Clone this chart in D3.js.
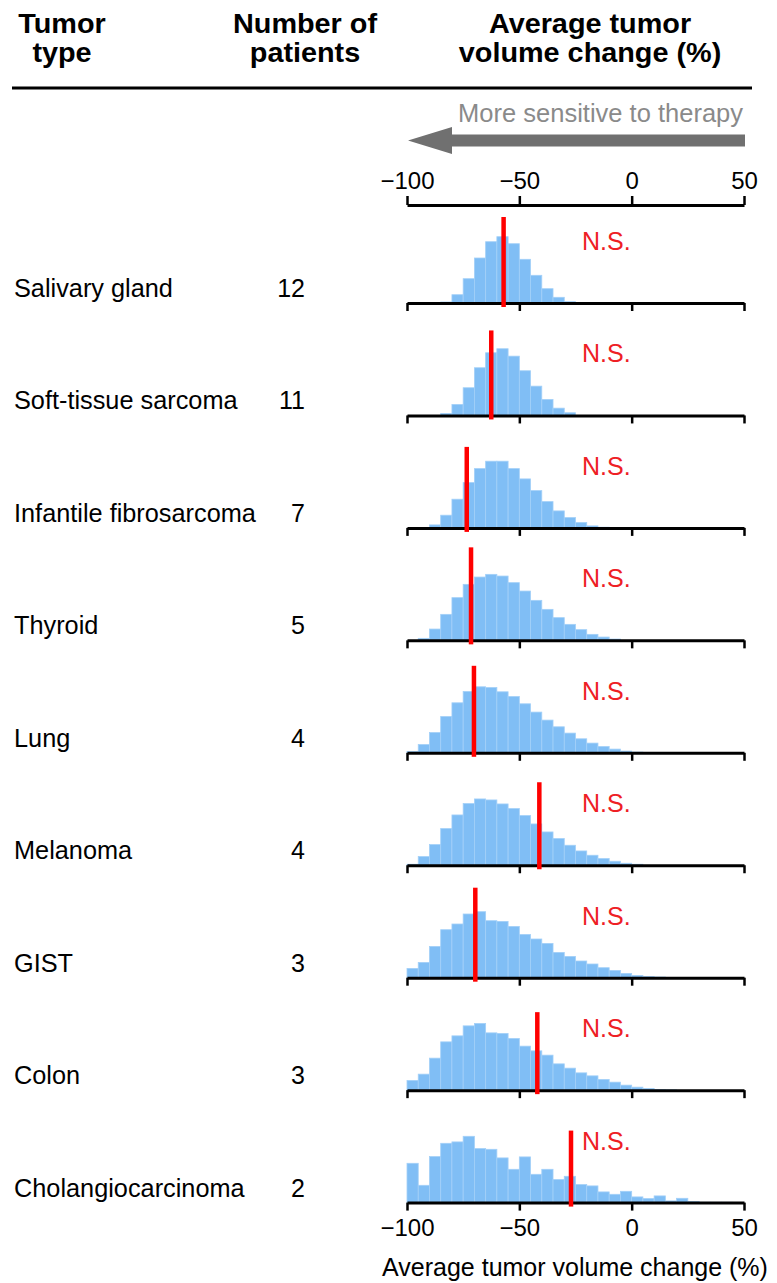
<!DOCTYPE html>
<html>
<head>
<meta charset="utf-8">
<script src="https://cdn.jsdelivr.net/npm/d3@7"></script>
<style>
  body { margin: 0; background: #fff; }
  svg text { font-family: "Liberation Sans", Arial, sans-serif; }
</style>
</head>
<body>
<div id="chart"></div>
<script>
// tumor types and patient counts
const tumorTypes = ["Salivary gland", "Soft-tissue sarcoma", "Infantile fibrosarcoma", "Thyroid",
                    "Lung", "Melanoma", "GIST", "Colon", "Cholangiocarcinoma"];
const patients = [12, 11, 7, 5, 4, 4, 3, 3, 2];

// lower edge of each 5% bin
const binStarts = [-100, -95, -90, -85, -80, -75, -70, -65, -60, -55, -50, -45, -40, -35, -30,
                   -25, -20, -15, -10, -5, 0, 5, 10, 15, 20, 25, 30, 35, 40, 45];
const binWidth = 5;

// histogram heights (relative frequency), one array per tumor type
const salivary   = [0, 0, 0, 1, 8.3, 24.3, 45, 61.3, 66.3, 59.3, 43.7, 27.7, 14.3, 5.7, 1.3, 0, 0, 0, 0, 0, 0, 0, 0, 0, 0, 0, 0, 0, 0, 0];
const softTissue = [0, 0, 0, 2, 11, 27.7, 47.7, 62.7, 66.7, 59.3, 44.7, 29.3, 16, 7.3, 2.7, 0, 0, 0, 0, 0, 0, 0, 0, 0, 0, 0, 0, 0, 0, 0];
const infantile  = [0, 0, 3, 12.7, 28.7, 45.3, 59.3, 66.7, 66.7, 59.3, 49, 37.3, 26.3, 17, 10.3, 5.3, 2, 0.7, 0, 0, 0, 0, 0, 0, 0, 0, 0, 0, 0, 0];
const thyroid    = [0, 2, 11.3, 26, 42.7, 56, 63.3, 66, 64.3, 57.7, 49.3, 40, 31, 22.7, 16, 10.7, 6, 3.3, 1.3, 0, 0, 0, 0, 0, 0, 0, 0, 0, 0, 0];
const lung       = [1.3, 8.3, 20.3, 36.3, 50, 61.3, 66, 65.3, 61, 56.3, 49, 40.7, 32.7, 26, 19.7, 14, 9.7, 6.3, 3.7, 1.7, 0.7, 0, 0, 0, 0, 0, 0, 0, 0, 0];
const melanoma   = [1, 8.7, 20.7, 36.7, 50.3, 61.7, 66.3, 65.3, 61.3, 56.7, 49.7, 41.3, 33.3, 26.7, 20, 14.3, 10, 6.7, 4, 2, 1, 0, 0, 0, 0, 0, 0, 0, 0, 0];
const gist       = [9.3, 15.3, 31.3, 48, 53.7, 63.7, 66, 57, 56.3, 51.3, 43.3, 38.7, 34.3, 25.3, 21.3, 16.7, 13.7, 10, 7.3, 4.3, 2.3, 1.3, 0.7, 0.3, 0, 0, 0, 0, 0, 0];
const colon      = [9.7, 16, 32, 48.3, 54.3, 64.3, 66.7, 57.3, 56.7, 51.7, 44, 39.3, 35, 26.3, 22, 17.3, 14.3, 10.7, 8, 5, 3, 1.7, 0.7, 0.3, 0, 0, 0, 0, 0, 0];
const cholangio  = [39.3, 17.3, 46, 59.3, 60.7, 66.3, 54, 53.3, 44.7, 33.3, 45.7, 28.3, 33.3, 23, 26.3, 18, 16.7, 10.7, 8.3, 11.3, 5.7, 4, 6.7, 1.7, 4.3, 1, 0.3, 0.3, 0.3, 0];

// observed value (red line) and its height, same units as the histograms
const observed   = [-57, -62.5, -73.4, -71.5, -70.2, -41.1, -69.6, -42, -27];
const lineHeight = [86, 85, 81, 93, 87, 83, 90, 78, 72];
const significance = ["N.S.", "N.S.", "N.S.", "N.S.", "N.S.", "N.S.", "N.S.", "N.S.", "N.S."];

const xTicks = [-100, -50, 0, 50];

const histograms = [salivary, softTissue, infantile, thyroid, lung, melanoma, gist, colon, cholangio];

const width = 777;
const height = 1283;

const svg = d3.select("#chart")
              .append("svg")
              .attr("width", width)
              .attr("height", height);

const xScale = d3.scaleLinear()
                 .domain([-100, 50])
                 .range([407, 744]);

const yScale = d3.scaleLinear()
                 .domain([0, 70])
                 .range([0, 70]);

const rowScale = d3.scaleLinear()
                   .domain([0, tumorTypes.length - 1])
                   .range([303, 1202.6]);

// header (narrow bold face: stretch a smaller font horizontally)
const header = [
  { lines: ["Tumor", "type"], x: 62 },
  { lines: ["Number of", "patients"], x: 305 },
  { lines: ["Average tumor", "volume change (%)"], x: 590 }
];
header.forEach(h => {
  h.lines.forEach((t, i) => {
    svg.append("text")
       .attr("transform", "translate(" + h.x + "," + (33 + i * 29) + ") scale(1.13,1.08)")
       .attr("text-anchor", "middle")
       .attr("font-size", 25.5)
       .attr("font-weight", "bold")
       .text(t);
  });
});

svg.append("line")
   .attr("x1", 12).attr("x2", 752)
   .attr("y1", 88).attr("y2", 88)
   .attr("stroke", "#000")
   .attr("stroke-width", 3);

// arrow
svg.append("text")
   .attr("x", 743)
   .attr("y", 122)
   .attr("text-anchor", "end")
   .attr("font-size", 25.5)
   .attr("fill", "#8a8a8a")
   .text("More sensitive to therapy");

svg.append("path")
   .attr("d", "M745,134.5 L452,134.5 L452,127 L408,140.5 L452,154 L452,146.5 L745,146.5 Z")
   .attr("fill", "#707070");

// top axis
const topAxis = svg.append("g")
                   .attr("transform", "translate(0,205)")
                   .call(d3.axisTop(xScale).tickValues(xTicks).tickSize(9).tickSizeOuter(0).tickPadding(7));
topAxis.select(".domain").attr("stroke-width", 3);
topAxis.selectAll(".tick line").attr("stroke-width", 2.5);
topAxis.selectAll(".tick text").attr("font-size", 24).attr("fill", "#000")
       .attr("font-family", "Liberation Sans, Arial, sans-serif");

// one row per tumor type
tumorTypes.forEach((name, i) => {
  const base = rowScale(i);
  const row = svg.append("g");

  row.append("text")
     .attr("x", 14)
     .attr("y", base - 6)
     .attr("font-size", 25.3)
     .text(name);

  row.append("text")
     .attr("x", 305)
     .attr("y", base - 6)
     .attr("text-anchor", "end")
     .attr("font-size", 25)
     .text(patients[i]);

  row.selectAll("rect")
     .data(histograms[i].map((v, j) => ({ start: binStarts[j], value: v })).filter(d => d.value > 0))
     .enter()
     .append("rect")
      .attr("x", d => xScale(d.start))
      .attr("width", d => xScale(d.start + binWidth) - xScale(d.start))
      .attr("y", d => base - yScale(d.value))
      .attr("height", d => yScale(d.value))
      .attr("fill", "#80bef5")
      .attr("stroke", "#a3d0f8")
      .attr("stroke-width", 0.8);

  const axis = row.append("g")
                  .attr("transform", "translate(0," + base + ")")
                  .call(d3.axisBottom(xScale).tickValues(xTicks).tickSize(8).tickSizeOuter(0).tickPadding(8));
  axis.select(".domain").attr("stroke-width", 3);
  axis.selectAll(".tick line").attr("stroke-width", 2.5);
  if (i < tumorTypes.length - 1) {
    axis.selectAll(".tick text").remove();
  } else {
    axis.selectAll(".tick text").attr("font-size", 24).attr("fill", "#000")
        .attr("font-family", "Liberation Sans, Arial, sans-serif");
  }

  row.append("line")
     .attr("x1", xScale(observed[i])).attr("x2", xScale(observed[i]))
     .attr("y1", base - yScale(lineHeight[i]))
     .attr("y2", base + 4)
     .attr("stroke", "#ff0000")
     .attr("stroke-width", 4.5);

  row.append("text")
     .attr("x", 582)
     .attr("y", base - 53)
     .attr("font-size", 25)
     .attr("fill", "#ee2024")
     .text(significance[i]);
});

svg.append("text")
   .attr("x", 575)
   .attr("y", 1276)
   .attr("text-anchor", "middle")
   .attr("font-size", 25)
   .text("Average tumor volume change (%)");
</script>
</body>
</html>
